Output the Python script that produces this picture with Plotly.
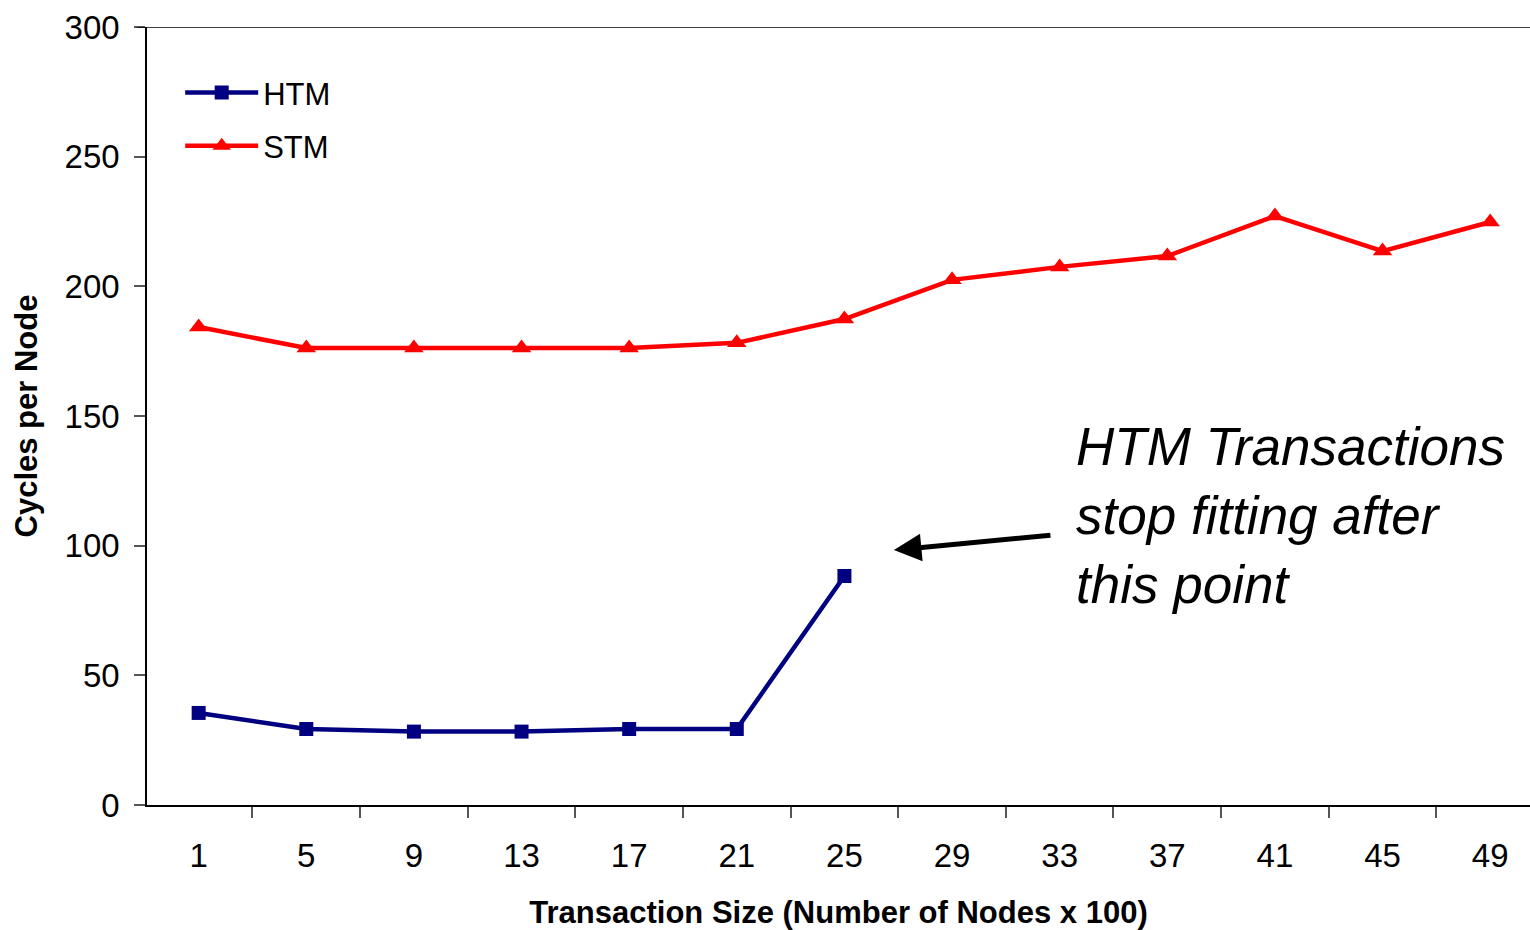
import plotly.graph_objects as go

# Transaction size categories (number of nodes x 100)
sizes = ["1", "5", "9", "13", "17", "21", "25", "29", "33", "37", "41", "45", "49"]

# Cycles per node for each transactional memory scheme
htm_cycles = [35.5, 29.3, 28.3, 28.3, 29.3, 29.3, 88.3]
stm_cycles = [184.3, 176.2, 176.2, 176.2, 176.2, 178.2, 187.4,
              202.5, 207.5, 211.7, 227.1, 213.6, 224.8]

FONT = "Liberation Sans, Arial, sans-serif"

fig = go.Figure()

fig.add_trace(go.Scatter(
    x=sizes[:len(htm_cycles)], y=htm_cycles, name="HTM",
    mode="lines+markers", legendgroup="htm",
    line=dict(color="#000080", width=4.5),
    marker=dict(symbol="square", size=14, color="#000080"),
))
fig.add_trace(go.Scatter(
    x=sizes, y=stm_cycles, name="STM",
    mode="lines+markers", legendgroup="stm",
    line=dict(color="#FF0000", width=4.5),
    marker=dict(symbol="triangle-up", size=17, color="#FF0000"),
))

# Line closing the top of the value range
fig.add_shape(type="line", xref="paper", yref="y", x0=-0.007, x1=1, y0=300, y1=300,
              line=dict(color="#000000", width=1.5))

# Callout marking where HTM transactions no longer fit
fig.add_annotation(
    x=6.46, y=98.3, xref="x", yref="y", ax=158, ay=-15, axref="pixel", ayref="pixel",
    text="", showarrow=True, arrowhead=2, arrowsize=1.1, arrowwidth=5, arrowcolor="#000000",
)
fig.add_annotation(
    x=8.13, y=111.8, xref="x", yref="y", xanchor="left", yanchor="middle",
    text="HTM Transactions<br>stop fitting after<br>this point", align="left",
    showarrow=False, font=dict(family=FONT, size=53, color="#000000", style="italic"),
)

fig.update_layout(
    width=1530, height=930,
    margin=dict(l=147, r=0, t=27, b=125),
    paper_bgcolor="white", plot_bgcolor="white",
    font=dict(family=FONT, color="#000000"),
    showlegend=True,
    legend=dict(
        x=0.024, y=0.95, xanchor="left", yanchor="top",
        bgcolor="rgba(0,0,0,0)", font=dict(size=31, family=FONT),
        itemwidth=73, tracegroupgap=10,
    ),
    xaxis=dict(
        type="category", range=[-0.48, 12.37],
        tickson="boundaries", ticks="outside", ticklen=11, tickwidth=1.5, tickcolor="#555555",
        showline=True, linecolor="#000000", linewidth=1.5, showgrid=False,
        tickfont=dict(size=33), ticklabelstandoff=21,
        title=dict(text="<b>Transaction Size (Number of Nodes x 100)</b>",
                   font=dict(size=31), standoff=30),
    ),
    yaxis=dict(
        range=[0, 300], dtick=50, ticks="outside", ticklen=11, tickwidth=1.5, tickcolor="#555555",
        showline=True, linecolor="#000000", linewidth=1.5, showgrid=False, zeroline=False,
        tickfont=dict(size=33), ticklabelstandoff=8,
        title=dict(text="<b>Cycles per Node</b>", font=dict(size=31), standoff=18),
    ),
)

fig.write_html("out.html")
